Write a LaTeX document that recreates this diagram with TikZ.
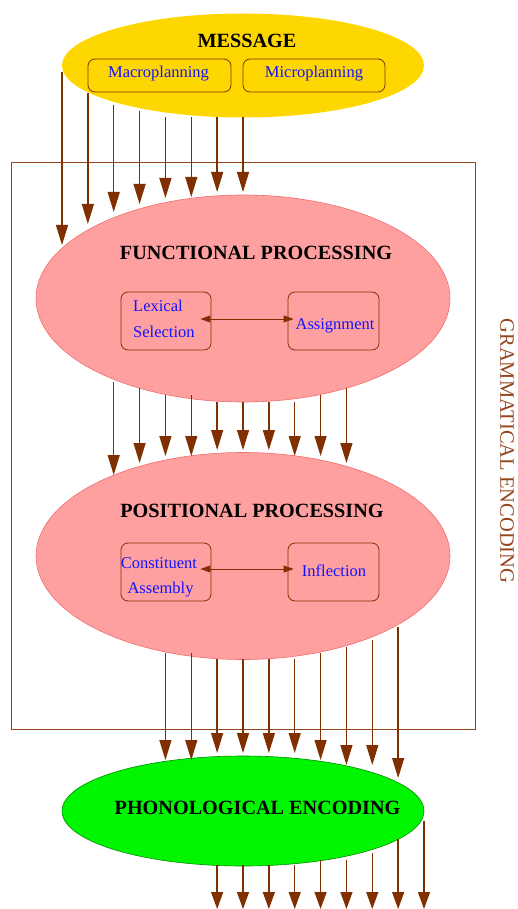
\documentclass[tikz,border=0pt]{standalone}
\usepackage{fontspec}
\setmainfont{Liberation Serif}
\usetikzlibrary{arrows.meta,shapes.geometric}
\definecolor{arr}{RGB}{128,48,0}
\definecolor{frame}{RGB}{150,70,30}
\definecolor{gold}{RGB}{255,215,0}
\definecolor{pinkfill}{RGB}{255,160,160}
\definecolor{pinkline}{RGB}{240,110,110}
\definecolor{grn}{RGB}{0,245,0}
\definecolor{grnline}{RGB}{0,140,0}
\definecolor{txtblue}{RGB}{20,20,255}
\tikzset{
  flow/.style={draw=arr, line width=1.3pt, -{Triangle[length=20pt,width=12pt]}},
  blob/.style={ellipse, inner sep=0pt},
  title/.style={font=\bfseries\fontsize{20.2}{23}\selectfont, text=black},
  sub/.style={draw=arr, line width=0.8pt, rounded corners=7pt, inner sep=0pt},
  subtxt/.style={font=\fontsize{16.5}{19}\selectfont, text=txtblue, inner sep=0pt},
  twoway/.style={draw=arr, line width=1pt, {Triangle[length=10pt,width=7pt]}-{Triangle[length=10pt,width=7pt]}}
}
\begin{document}
\begin{tikzpicture}[x=1pt,y=-1pt]
\useasboundingbox (0,0) rectangle (517,909);

% frame
\node[draw=frame, line width=1pt, minimum width=464pt, minimum height=566pt, inner sep=0pt] (frm) at (243,446) {};
\node[font=\fontsize{20.5}{23}\selectfont, text=frame, rotate=-90] (ge) at (507,451) {GRAMMATICAL ENCODING};

% ellipses
\node[blob, fill=gold, minimum width=362pt, minimum height=104pt] (msg) at (243,65.5) {};
\node[blob, fill=pinkfill, draw=pinkline, line width=0.6pt, minimum width=414pt, minimum height=207pt] (fun) at (243,298.5) {};
\node[blob, fill=pinkfill, draw=pinkline, line width=0.6pt, minimum width=414pt, minimum height=207pt] (pos) at (243,556) {};
\node[blob, fill=grn, draw=grnline, line width=0.6pt, minimum width=362pt, minimum height=110pt] (pho) at (243,811) {};

% titles
\node[title] (tmsg) at (247,41) {MESSAGE};
\node[title] (tfun) at (256,253) {FUNCTIONAL PROCESSING};
\node[title] (tpos) at (252,511) {POSITIONAL PROCESSING};
\node[title] (tpho) at (257.5,808) {PHONOLOGICAL ENCODING};

% sub boxes
\node[sub, minimum width=143pt, minimum height=33pt] (mac) at (159.5,75.5) {};
\node[sub, minimum width=142pt, minimum height=33pt] (mic) at (314,75.5) {};
\node[subtxt] (tmac) at (158.5,74) {Macroplanning};
\node[subtxt] (tmic) at (314,74) {Microplanning};

\node[sub, minimum width=90pt, minimum height=58pt] (lex) at (166,321) {};
\node[sub, minimum width=91pt, minimum height=58pt] (asg) at (333.5,321) {};
\node[subtxt, anchor=west] (tlex1) at (133,306) {Lexical};
\node[subtxt, anchor=west] (tlex2) at (133,332) {Selection};
\node[subtxt] (tasg) at (335,326) {Assignment};
\draw[twoway] ([xshift=-11pt,yshift=2pt]lex.east) -- ([xshift=6pt,yshift=2pt]asg.west);

\node[sub, minimum width=90pt, minimum height=58pt] (con) at (166,572) {};
\node[sub, minimum width=91pt, minimum height=58pt] (inf) at (333.5,572) {};
\node[subtxt] (tcon1) at (159,563) {Constituent};
\node[subtxt] (tcon2) at (160.5,590) {Assembly};
\node[subtxt] (tinf) at (334,571) {Inflection};
\draw[twoway] ([xshift=-11pt,yshift=3pt]con.east) -- ([xshift=6pt,yshift=3pt]inf.west);

% arrows: message -> functional
\foreach \i/\a/\b in {0/72/245, 1/93/224, 2/105/212, 3/111/204, 4/117/198, 5/117/197, 6/117/192, 7/117/192} {
  \coordinate (ma\i) at (62+25.857*\i,\a);
  \coordinate (mb\i) at (62+25.857*\i,\b);
  \draw[flow] (ma\i) -- (mb\i);
}
% functional -> positional
\foreach \i/\a/\b in {2/382/475, 3/388/463, 4/395/456, 5/395/456, 6/402/450, 7/402/450, 8/402/450, 9/402/456, 10/395/456, 11/388/463} {
  \coordinate (fa\i) at (62+25.857*\i,\a);
  \coordinate (fb\i) at (62+25.857*\i,\b);
  \draw[flow] (fa\i) -- (fb\i);
}
% positional -> phonological
\foreach \i/\a/\b in {4/653/760, 5/653/760, 6/659/753, 7/659/753, 8/659/753, 9/659/753, 10/653/760, 11/647/765, 12/640/765, 13/627/778} {
  \coordinate (pa\i) at (62+25.857*\i,\a);
  \coordinate (pb\i) at (62+25.857*\i,\b);
  \draw[flow] (pa\i) -- (pb\i);
}
% phonological -> out
\foreach \i/\a in {6/865, 7/865, 8/865, 9/865, 10/860, 11/860, 12/853, 13/839, 14/821} {
  \coordinate (qa\i) at (62+25.857*\i,\a);
  \coordinate (qb\i) at (62+25.857*\i,909);
  \draw[flow, -{Triangle[length=17pt,width=12pt]}] (qa\i) -- (qb\i);
}
\end{tikzpicture}
\end{document}
